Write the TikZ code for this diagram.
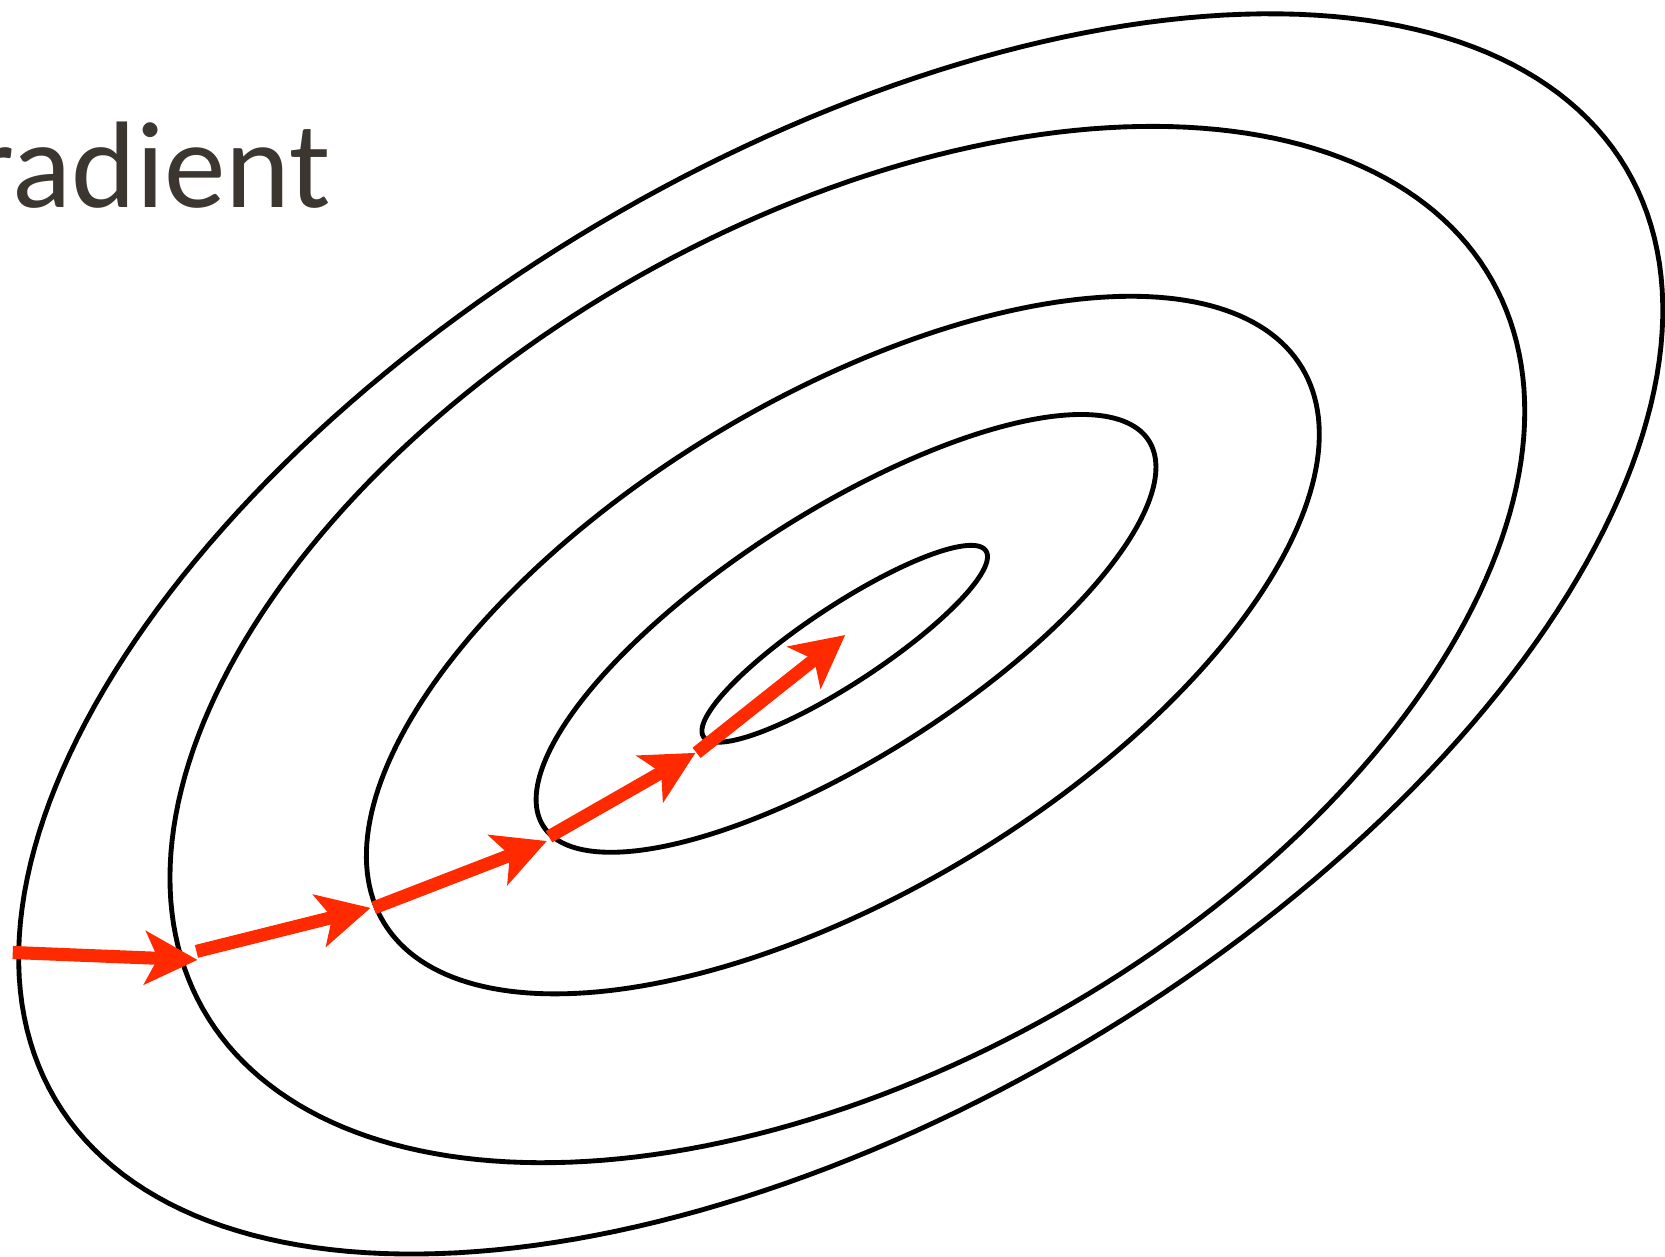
\documentclass[tikz,border=0pt]{standalone}
\usepackage{fontspec}
\setmainfont{Carlito}
\usetikzlibrary{arrows.meta}
\definecolor{txtcol}{HTML}{3B3630}
\definecolor{arrred}{HTML}{FF2A00}
% rotated ellipse in screen coordinates: centre (#1,#2), semi-axes #3,#4, tilt #5 (deg)
\newcommand\ContourEll[5]{%
  \draw[contour] plot[domain=0:360, samples=241, variable=\t]
   ({#1+#3*cos(\t)*cos(#5)+#4*sin(\t)*sin(#5)},
    {#2-#3*cos(\t)*sin(#5)+#4*sin(\t)*cos(#5)}) -- cycle;}
\begin{document}
\begin{tikzpicture}[x=0.01cm,y=-0.01cm,
  contour/.style={line width=1.3pt, black, line join=round},
  stepline/.style={arrred, line width=3.5pt,
    -{Stealth[length=14pt,width=14.2pt,inset=3.4pt]}}]
\useasboundingbox (0,0) rectangle (1568,1183);
\clip (0,0) rectangle (1568,1183);
\ContourEll{791.75}{597}{859.9}{448.5}{30.66}
\ContourEll{798}{607}{697.3}{398.7}{29.47}
\ContourEll{793.75}{607.5}{505.2}{232.5}{31.16}
\ContourEll{796.75}{596.5}{338}{116}{32.47}
\ContourEll{795.5}{606.3}{159.2}{36.5}{33.36}
% steps
\coordinate (p0) at (12,897);
\coordinate (p1) at (186,904);
\coordinate (q1) at (185,896);
\coordinate (p2) at (349,855);
\coordinate (q2) at (352,855);
\coordinate (p3) at (515,792);
\coordinate (q3) at (517,788);
\coordinate (p4) at (655,709);
\coordinate (q4) at (656,709);
\coordinate (p5) at (796,598);
\draw[stepline] (p0) -- (p1);
\draw[stepline] (q1) -- (p2);
\draw[stepline] (q2) -- (p3);
\draw[stepline] (q3) -- (p4);
\draw[stepline] (q4) -- (p5);
\node[anchor=base east, inner sep=0pt, text=txtcol, font=\fontsize{33}{40}\selectfont] (title) at (312,195) {radient};
\end{tikzpicture}
\end{document}
